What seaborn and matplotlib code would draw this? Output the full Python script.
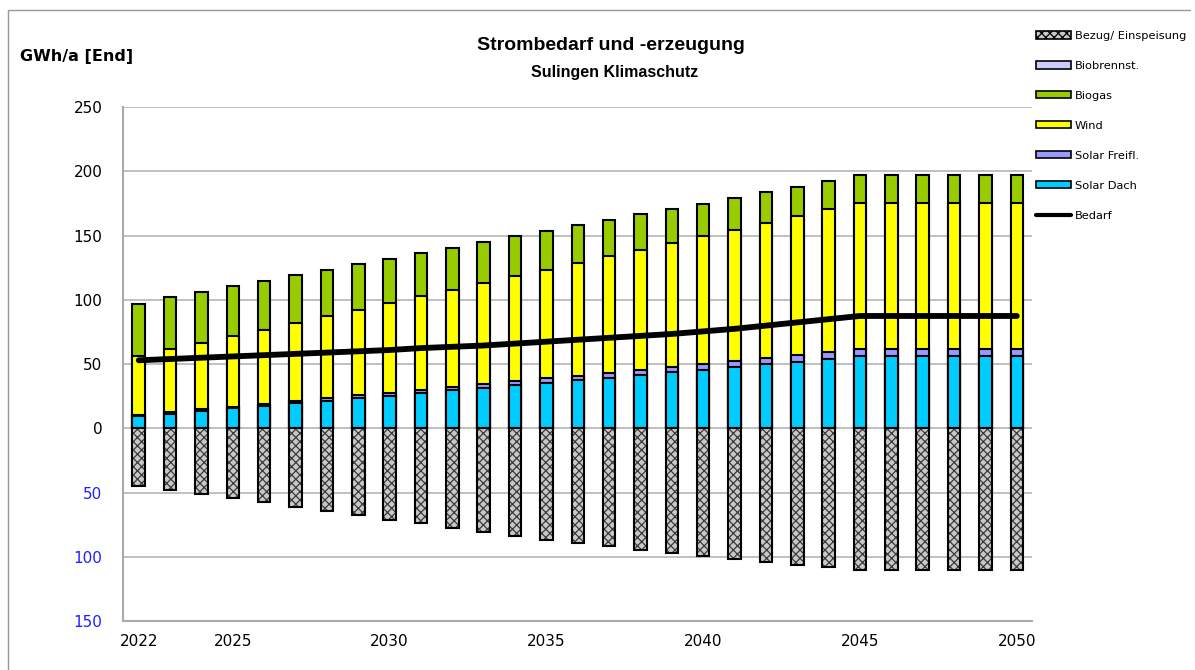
import numpy as np
import matplotlib
matplotlib.use("Agg")
import matplotlib.pyplot as plt
from matplotlib.patches import Patch
from matplotlib.lines import Line2D
import seaborn as sns

# values (GWh/a)
years = [str(y) for y in range(2022, 2051)]
solar_dach = [9.5, 11.5, 13.5, 15.5, 17.5, 19.5, 21.5, 23.5, 25.5, 27.5, 29.5, 31.5, 33.5, 35.5,
              37.5, 39.5, 41.5, 43.5, 45.5, 47.5, 50.0, 52.0, 54.0, 56.0, 56.0, 56.0, 56.0, 56.0, 56.0]
solar_freifl = [0.8, 1.0, 1.2, 1.4, 1.6, 1.8, 2.0, 2.2, 2.4, 2.6, 2.8, 3.0, 3.2, 3.4,
                3.6, 3.8, 4.0, 4.2, 4.4, 4.6, 4.8, 5.0, 5.2, 5.5, 5.5, 5.5, 5.5, 5.5, 5.5]
wind = [46.0, 49.0, 52.0, 54.7, 57.7, 60.7, 63.7, 66.7, 69.7, 72.7, 75.7, 78.7, 81.7, 84.7,
        87.7, 90.7, 93.7, 96.7, 99.7, 102.7, 105.2, 108.2, 111.2, 114.0, 114.0, 114.0, 114.0, 114.0, 114.0]
biogas = [40.9, 40.8, 39.5, 39.0, 37.7, 37.0, 36.3, 35.6, 34.4, 33.7, 32.5, 31.8, 31.1, 29.9,
          29.2, 28.5, 27.3, 26.6, 25.4, 24.7, 24.0, 22.8, 22.1, 21.5, 21.5, 21.5, 21.5, 21.5, 21.5]
biobrennst = [0.0] * 29
bezug = [-45, -48, -51, -54.5, -57.5, -61, -64, -67.5, -71, -74, -77.5, -80.5, -83.5, -86.5,
         -89, -91.5, -94.5, -97, -99.5, -101.5, -104, -106, -108, -110, -110, -110, -110, -110, -110]
bedarf = [53, 54, 55, 56, 57, 58, 59, 60, 61, 62.5, 63.5, 64.5, 66, 67.5, 69, 70.5, 72, 73.5,
          75.5, 77.5, 80, 82.5, 85, 87.5, 87.5, 87.5, 87.5, 87.5, 87.5]

year_labels = ["2022", "2025", "2030", "2035", "2040", "2045", "2050"]

colors = {
    "Solar Dach": "#00ccff",
    "Solar Freifl.": "#9999ff",
    "Wind": "#ffff00",
    "Biogas": "#99cc00",
    "Biobrennst.": "#ccccff",
}

sns.set_style("white")
plt.rcParams["font.family"] = ["DejaVu Sans"]
plt.rcParams["text.color"] = "black"
plt.rcParams["xtick.color"] = "black"
plt.rcParams["ytick.color"] = "black"
plt.rcParams["hatch.linewidth"] = 0.9

fig = plt.figure(figsize=(11.95, 6.70), dpi=100)
ax = fig.add_axes([0.103, 0.073, 0.761, 0.767])

# stacked bars: draw cumulative totals from the top layer down
layers = [("Solar Dach", solar_dach), ("Solar Freifl.", solar_freifl), ("Wind", wind),
          ("Biogas", biogas), ("Biobrennst.", biobrennst)]
cum = np.cumsum([np.array(v) for _, v in layers], axis=0)
for i in range(len(layers) - 1, -1, -1):
    name = layers[i][0]
    if name == "Biobrennst.":
        continue
    sns.barplot(x=years, y=cum[i], color=colors[name], saturation=1, width=0.4,
                edgecolor="black", linewidth=1.5, errorbar=None, ax=ax)

# negative bars (Bezug/ Einspeisung) with hatch, then black outline
sns.barplot(x=years, y=bezug, color="#c8c8c8", saturation=1, width=0.4,
            edgecolor="#3a3a3a", linewidth=0, hatch="xxxx", errorbar=None, ax=ax)
sns.barplot(x=years, y=bezug, color="black", fill=False, width=0.4,
            linewidth=1.5, errorbar=None, ax=ax)

# Bedarf line
sns.lineplot(x=np.arange(len(years)), y=bedarf, color="black", linewidth=4.2,
             solid_capstyle="round", ax=ax, legend=False)

ax.set_xlim(-0.5, len(years) - 0.5)
ax.set_ylim(-150, 250)
yt = np.arange(-150, 251, 50)
ax.set_yticks(yt)
ax.set_yticklabels([str(abs(v)) for v in yt], fontsize=11)
for lab, v in zip(ax.get_yticklabels(), yt):
    lab.set_color("#2020ff" if v < 0 else "black")
ax.set_xticks([years.index(y) for y in year_labels])
ax.set_xticklabels(year_labels, fontsize=11)
ax.set_xticks(np.arange(-0.5, len(years), 1), minor=True)
ax.tick_params(axis="x", which="major", length=0, pad=9)
ax.tick_params(axis="x", which="minor", length=5, color="#aaaaaa", width=1)
ax.tick_params(axis="y", length=5, color="#aaaaaa", width=1, pad=10)
ax.set_xlabel("")
ax.set_ylabel("")
ax.grid(axis="y", color="#b5b5b5", linewidth=1.2)
ax.set_axisbelow(True)
for s in ["top", "right"]:
    ax.spines[s].set_visible(False)
for s in ["left", "bottom"]:
    ax.spines[s].set_color("#aaaaaa")
    ax.spines[s].set_linewidth(1.5)

# titles
fig.text(611 / 1195, 1 - 46 / 670, "Strombedarf und -erzeugung", ha="center", va="center",
         fontsize=14, fontweight="bold", family="Liberation Sans", color="black")
fig.text(615 / 1195, 1 - 73 / 670, "Sulingen Klimaschutz", ha="center", va="center",
         fontsize=11.5, fontweight="bold", family="Liberation Sans", color="black")
fig.text(20 / 1195, 1 - 57 / 670, "GWh/a [End]", ha="left", va="center",
         fontsize=11.5, fontweight="bold", color="black")

# legend
handles = [
    Patch(facecolor="#c8c8c8", edgecolor="black", hatch="xxxx", linewidth=1.2),
    Patch(facecolor=colors["Biobrennst."], edgecolor="black", linewidth=1.2),
    Patch(facecolor=colors["Biogas"], edgecolor="black", linewidth=1.2),
    Patch(facecolor=colors["Wind"], edgecolor="black", linewidth=1.2),
    Patch(facecolor=colors["Solar Freifl."], edgecolor="black", linewidth=1.2),
    Patch(facecolor=colors["Solar Dach"], edgecolor="black", linewidth=1.2),
    Line2D([0], [0], color="black", linewidth=3),
]
labels = ["Bezug/ Einspeisung", "Biobrennst.", "Biogas", "Wind", "Solar Freifl.",
          "Solar Dach", "Bedarf"]
fig.legend(handles, labels, loc="upper left", bbox_to_anchor=(1036 / 1195, 1 - 31 / 670),
           frameon=False, fontsize=8.2, handlelength=3.1, handleheight=0.6,
           handletextpad=0.3, labelspacing=1.75, borderaxespad=0, borderpad=0)

# outer frame lines
fig.add_artist(Line2D([8 / 1195, 8 / 1195], [0, 1 - 10 / 670], color="#999999", lw=1,
                      transform=fig.transFigure))
fig.add_artist(Line2D([8 / 1195, 1190 / 1195], [1 - 10 / 670, 1 - 10 / 670], color="#999999",
                      lw=1, transform=fig.transFigure))

fig.savefig("out.png", dpi=100)
